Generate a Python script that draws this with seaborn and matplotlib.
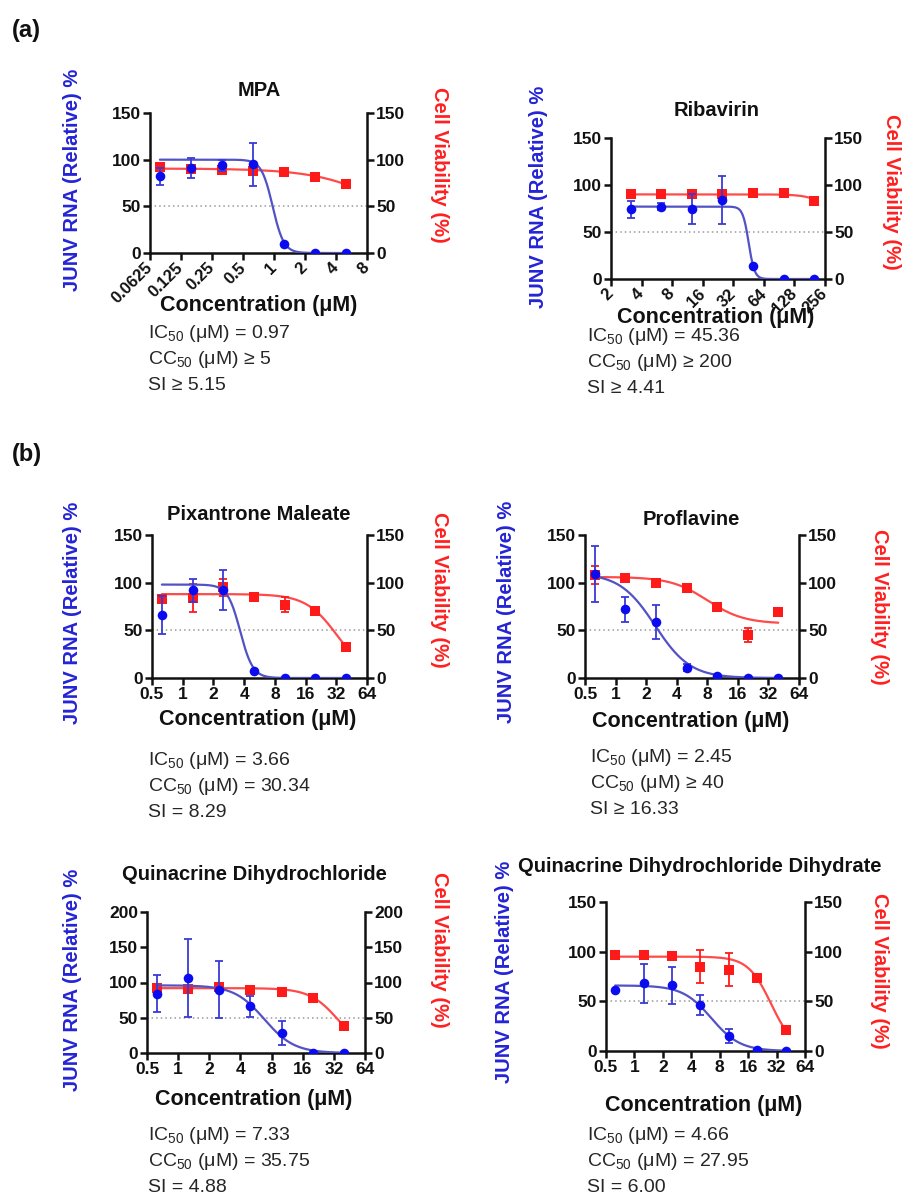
import numpy as np
import pandas as pd
import matplotlib
matplotlib.use("Agg")
import matplotlib.pyplot as plt
import seaborn as sns

sns.set_style("ticks")
plt.rcParams['font.family'] = ['Liberation Sans', 'DejaVu Sans']
plt.rcParams['mathtext.fontset'] = 'custom'
plt.rcParams['mathtext.rm'] = 'Liberation Sans'
plt.rcParams['mathtext.it'] = 'Liberation Sans:italic'
plt.rcParams['mathtext.bf'] = 'Liberation Sans:bold'

# ---------------- data ----------------
mpa_conc = [0.078, 0.156, 0.3125, 0.625, 1.25, 2.5, 5]
mpa_rna = [82, 91, 94, 95, 10, 0, 0]
mpa_rna_err = [9, 11, 6, 23, 0, 0, 0]
mpa_via = [92, 90, 89, 88, 87, 81, 74]
mpa_via_err = [3, 2, 3, 2, 2, 2, 2]
mpa_rna_fit = [100, 0, 0.97, 8]       # top, bottom, midpoint, hill
mpa_via_fit = [90.5, 0, 16, 1.25]
mpa_ticks = [0.0625, 0.125, 0.25, 0.5, 1, 2, 4, 8]
mpa_ticklabels = ['0.0625', '0.125', '0.25', '0.5', '1', '2', '4', '8']
mpa_text = [r'IC$_{50}$ (μM) = 0.97', r'CC$_{50}$ (μM) ≥ 5', 'SI ≥ 5.15']

rib_conc = [3.125, 6.25, 12.5, 25, 50, 100, 200]
rib_rna = [74, 77, 74, 84, 14, 0, 0]
rib_rna_err = [9, 4, 16, 26, 0, 0, 0]
rib_via = [90, 90, 90, 90, 92, 92, 83]
rib_via_err = [2, 2, 3, 2, 1, 1, 1]
rib_rna_fit = [77, 0, 45.36, 15]
rib_via_fit = [90, 0, 400, 4]
rib_ticks = [2, 4, 8, 16, 32, 64, 128, 256]
rib_ticklabels = ['2', '4', '8', '16', '32', '64', '128', '256']
rib_text = [r'IC$_{50}$ (μM) = 45.36', r'CC$_{50}$ (μM) ≥ 200', 'SI ≥ 4.41']

std_conc = [0.625, 1.25, 2.5, 5, 10, 20, 40]
std_ticks = [0.5, 1, 2, 4, 8, 16, 32, 64]
std_ticklabels = ['0.5', '1', '2', '4', '8', '16', '32', '64']

pix_rna = [66, 92, 92, 7, 0, 0, 0]
pix_rna_err = [20, 12, 21, 0, 0, 0, 0]
pix_via = [83, 84, 95, 85, 77, 70, 32]
pix_via_err = [3, 15, 9, 3, 8, 4, 4]
pix_rna_fit = [98, 0, 3.66, 7]
pix_via_fit = [88, 0, 33, 2.8]
pix_text = [r'IC$_{50}$ (μM) = 3.66', r'CC$_{50}$ (μM) = 30.34', 'SI = 8.29']

pro_rna = [109, 72, 59, 11, 2, 0, 0]
pro_rna_err = [29, 13, 18, 4, 1, 0, 0]
pro_via = [108, 105, 100, 94, 75, 45, 69]
pro_via_err = [9, 3, 3, 1, 1, 7, 1]
pro_rna_fit = [110, 0, 2.45, 2.5]
pro_via_fit = [106, 57, 8.0, 2.4]
pro_text = [r'IC$_{50}$ (μM) = 2.45', r'CC$_{50}$ (μM) ≥ 40', 'SI ≥ 16.33']

qd_rna = [84, 106, 90, 66, 28, 0, 0]
qd_rna_err = [26, 55, 40, 15, 17, 0, 0]
qd_via = [92, 91, 93, 90, 87, 78, 38]
qd_via_err = [2, 2, 2, 2, 2, 2, 2]
qd_rna_fit = [96, 0, 6.8, 3]
qd_via_fit = [92, 0, 35.75, 3.1]
qd_text = [r'IC$_{50}$ (μM) = 7.33', r'CC$_{50}$ (μM) = 35.75', 'SI = 4.88']

qdd_rna = [61, 68, 66, 46, 15, 1, 0]
qdd_rna_err = [0, 20, 19, 10, 7, 0, 0]
qdd_via = [97, 97, 96, 85, 82, 73, 21]
qdd_via_err = [1, 1, 1, 17, 17, 4, 4]
qdd_rna_fit = [66, 0, 6.53, 2.86]
qdd_via_fit = [95, 0, 28, 3.55]
qdd_text = [r'IC$_{50}$ (μM) = 4.66', r'CC$_{50}$ (μM) = 27.95', 'SI = 6.00']

# ---------------- layout ----------------
W, H = 915, 1194
BLUE = '#0b0bf0'
BLUE_LINE = '#5252c6'
RED = '#ff1a1a'
RED_LINE = '#ff4a4a'
TXT = '#262626'

panels = [
    dict(title='MPA', conc=mpa_conc, rna=mpa_rna, rna_err=mpa_rna_err, via=mpa_via, via_err=mpa_via_err,
         rfit=mpa_rna_fit, vfit=mpa_via_fit, ticks=mpa_ticks, tl=mpa_ticklabels, rot=True, ymax=150,
         box=(150, 113, 367, 253), tpos=(259, 90), xl=(259, 305), text=mpa_text, tx=(148, 331),
         yl=(72, 180), yr=(440, 165)),
    dict(title='Ribavirin', conc=rib_conc, rna=rib_rna, rna_err=rib_rna_err, via=rib_via, via_err=rib_via_err,
         rfit=rib_rna_fit, vfit=rib_via_fit, ticks=rib_ticks, tl=rib_ticklabels, rot=True, ymax=150,
         box=(611, 138, 825, 279), tpos=(717, 111), xl=(716, 317), text=rib_text, tx=(587, 334),
         yl=(538, 197), yr=(892, 192)),
    dict(title='Pixantrone Maleate', conc=std_conc, rna=pix_rna, rna_err=pix_rna_err, via=pix_via, via_err=pix_via_err,
         rfit=pix_rna_fit, vfit=pix_via_fit, ticks=std_ticks, tl=std_ticklabels, rot=False, ymax=150,
         box=(152, 535, 367, 678), tpos=(259, 515), xl=(258, 720), text=pix_text, tx=(148, 758),
         yl=(72, 613), yr=(440, 590)),
    dict(title='Proflavine', conc=std_conc, rna=pro_rna, rna_err=pro_rna_err, via=pro_via, via_err=pro_via_err,
         rfit=pro_rna_fit, vfit=pro_via_fit, ticks=std_ticks, tl=std_ticklabels, rot=False, ymax=150,
         box=(585, 535, 799, 678), tpos=(691, 519), xl=(691, 722), text=pro_text, tx=(590, 755),
         yl=(507, 612), yr=(879, 607)),
    dict(title='Quinacrine Dihydrochloride', conc=std_conc, rna=qd_rna, rna_err=qd_rna_err, via=qd_via, via_err=qd_via_err,
         rfit=qd_rna_fit, vfit=qd_via_fit, ticks=std_ticks, tl=std_ticklabels, rot=False, ymax=200,
         box=(147, 912, 365, 1053), tpos=(254, 875), xl=(254, 1099), text=qd_text, tx=(148, 1133),
         yl=(72, 980), yr=(440, 950)),
    dict(title='Quinacrine Dihydrochloride Dihydrate', conc=std_conc, rna=qdd_rna, rna_err=qdd_rna_err, via=qdd_via,
         via_err=qdd_via_err, rfit=qdd_rna_fit, vfit=qdd_via_fit, ticks=std_ticks, tl=std_ticklabels, rot=False, ymax=150,
         box=(606, 902, 805, 1051), tpos=(700, 867), xl=(704, 1106), text=qdd_text, tx=(587, 1133),
         yl=(505, 972), yr=(879, 971)),
]

fig = plt.figure(figsize=(W / 100, H / 100), dpi=100)


def fx(px):
    return px / W


def fy(py):
    return 1 - py / H


def logistic(x, p):
    top, bottom, mid, hill = p
    return bottom + (top - bottom) / (1 + (x / mid) ** hill)


for p in panels:
    x0, y0, x1, y1 = p['box']
    ax = fig.add_axes([fx(x0), fy(y1), (x1 - x0) / W, (y1 - y0) / H])
    ax2 = ax.twinx()
    for a in (ax, ax2):
        a.set_xscale('log', base=2)
        a.set_xlim(p['ticks'][0], p['ticks'][-1])
        a.set_ylim(0, p['ymax'])
        a.set_yticks(np.arange(0, p['ymax'] + 1, 50))
        a.tick_params(axis='both', which='major', direction='out', length=5, width=1.8,
                      labelsize=12.5, pad=1.5, colors='#111111')
        a.tick_params(axis='both', which='minor', length=0)
        for s in a.spines.values():
            s.set_linewidth(1.8)
            s.set_color('#111111')
        a.spines['top'].set_visible(False)
    ax.spines['right'].set_visible(False)
    ax2.spines['left'].set_visible(False)
    ax2.spines['bottom'].set_visible(False)
    ax.set_xticks(p['ticks'])
    if p['rot']:
        ax.set_xticklabels(p['tl'], rotation=45, ha='right', va='center', rotation_mode='anchor',
                           fontsize=12)
        ax.tick_params(axis='x', pad=4)
    else:
        ax.set_xticklabels(p['tl'])
    for lab in ax.get_xticklabels() + ax.get_yticklabels() + ax2.get_yticklabels():
        lab.set_fontweight('bold')

    # 50% reference line
    ax.axhline(50, color='#9a9a9a', lw=1.1, ls=(0, (1, 2)), zorder=1)

    conc = np.array(p['conc'], dtype=float)
    xs = np.geomspace(conc.min(), conc.max(), 300)
    fit_df = pd.DataFrame({'x': xs, 'rna': logistic(xs, p['rfit']), 'via': logistic(xs, p['vfit'])})
    pts_df = pd.DataFrame({'x': conc, 'rna': p['rna'], 'via': p['via']})

    # cell viability (right axis, red)
    sns.lineplot(data=fit_df, x='x', y='via', ax=ax2, color=RED_LINE, lw=1.6, zorder=3)
    ax2.errorbar(conc, p['via'], yerr=p['via_err'], fmt='none', ecolor=RED, elinewidth=1.3,
                 capsize=3, capthick=1.3, zorder=4)
    sns.scatterplot(data=pts_df, x='x', y='via', ax=ax2, marker='s', s=48, color=RED,
                    edgecolor=RED, linewidth=0, zorder=5)

    # JUNV RNA (left axis, blue)
    sns.lineplot(data=fit_df, x='x', y='rna', ax=ax2, color=BLUE_LINE, lw=1.6, zorder=6)
    ax2.errorbar(conc, p['rna'], yerr=p['rna_err'], fmt='none', ecolor='#3a3ad8', elinewidth=1.3,
                 capsize=3, capthick=1.3, zorder=7)
    sns.scatterplot(data=pts_df, x='x', y='rna', ax=ax2, marker='o', s=48, color=BLUE,
                    edgecolor=BLUE, linewidth=0, zorder=8)

    for a in (ax, ax2):
        a.set_xlabel('')
        a.set_ylabel('')
    ax2.set_xlim(p['ticks'][0], p['ticks'][-1])
    ax2.set_ylim(0, p['ymax'])
    ax.patch.set_alpha(0)

    # texts
    fig.text(fx(p['tpos'][0]), fy(p['tpos'][1]), p['title'], ha='center', va='center',
             fontsize=14.5, fontweight='bold', color='#111111')
    fig.text(fx(p['xl'][0]), fy(p['xl'][1]), 'Concentration (μM)', ha='center', va='center',
             fontsize=15.5, fontweight='bold', color='#111111')
    fig.text(fx(p['yl'][0]), fy(p['yl'][1]), 'JUNV RNA (Relative) %', ha='center', va='center',
             rotation=90, fontsize=14.5, fontweight='bold', color='#2424d6')
    fig.text(fx(p['yr'][0]), fy(p['yr'][1]), 'Cell Viability (%)', ha='center', va='center',
             rotation=270, fontsize=14.5, fontweight='bold', color='#ff2020')
    for i, t in enumerate(p['text']):
        fig.text(fx(p['tx'][0]), fy(p['tx'][1] + 26 * i + 7), t, ha='left', va='baseline',
                 fontsize=14, color=TXT)

fig.text(fx(12), fy(30), '(a)', ha='left', va='center', fontsize=17, fontweight='bold', color='#111111')
fig.text(fx(12), fy(455), '(b)', ha='left', va='center', fontsize=17, fontweight='bold', color='#111111')

fig.savefig('out.png', dpi=100)
